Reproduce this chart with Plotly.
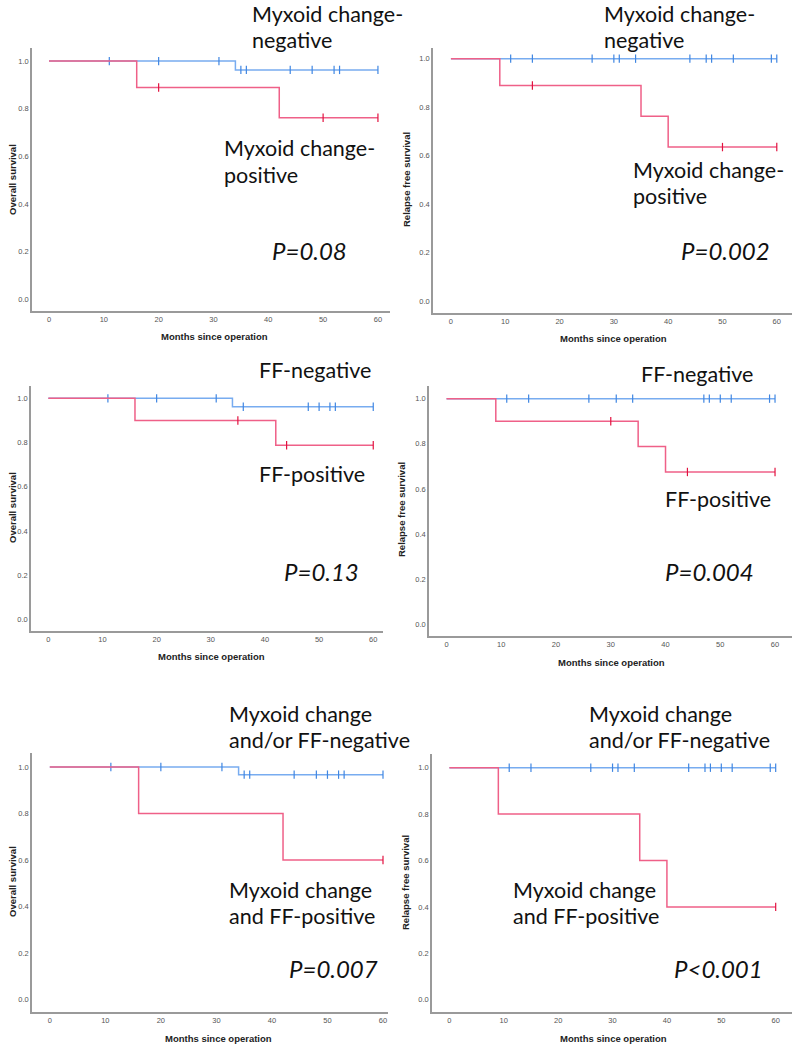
import plotly.graph_objects as go

# ---- data ----
# step curves: time of each step and survival after it; censor times
os_mc_neg_t = [0, 34, 60]
os_mc_neg_s = [1.0, 0.963, 0.963]
os_mc_neg_c = [11, 20, 31, 35, 36, 44, 48, 52, 53, 60]
os_mc_pos_t = [0, 16, 42, 60]
os_mc_pos_s = [1.0, 0.889, 0.762, 0.762]
os_mc_pos_c = [20, 50, 60]

rfs_mc_neg_t = [0, 60]
rfs_mc_neg_s = [1.0, 1.0]
rfs_mc_neg_c = [11, 15, 26, 30, 31, 34, 44, 47, 48, 52, 59, 60]
rfs_mc_pos_t = [0, 9, 35, 40, 60]
rfs_mc_pos_s = [1.0, 0.889, 0.762, 0.635, 0.635]
rfs_mc_pos_c = [15, 50, 60]

os_ff_neg_t = [0, 34, 60]
os_ff_neg_s = [1.0, 0.962, 0.962]
os_ff_neg_c = [11, 20, 31, 36, 48, 50, 52, 53, 60]
os_ff_pos_t = [0, 16, 42, 60]
os_ff_pos_s = [1.0, 0.9, 0.7875, 0.7875]
os_ff_pos_c = [35, 44, 60]

rfs_ff_neg_t = [0, 60]
rfs_ff_neg_s = [1.0, 1.0]
rfs_ff_neg_c = [11, 15, 26, 31, 34, 47, 48, 50, 52, 59, 60]
rfs_ff_pos_t = [0, 9, 35, 40, 60]
rfs_ff_pos_s = [1.0, 0.9, 0.7875, 0.675, 0.675]
rfs_ff_pos_c = [30, 44, 60]

os_both_neg_t = [0, 34, 60]
os_both_neg_s = [1.0, 0.967, 0.967]
os_both_neg_c = [11, 20, 31, 35, 36, 44, 48, 50, 52, 53, 60]
os_both_pos_t = [0, 16, 42, 60]
os_both_pos_s = [1.0, 0.8, 0.6, 0.6]
os_both_pos_c = [60]

rfs_both_neg_t = [0, 60]
rfs_both_neg_s = [1.0, 1.0]
rfs_both_neg_c = [11, 15, 26, 30, 31, 34, 44, 47, 48, 50, 52, 59, 60]
rfs_both_pos_t = [0, 9, 35, 40, 60]
rfs_both_pos_s = [1.0, 0.8, 0.6, 0.4, 0.4]
rfs_both_pos_c = [60]

x_ticks = [0, 10, 20, 30, 40, 50, 60]
y_ticks = [0.0, 0.2, 0.4, 0.6, 0.8, 1.0]
x_title = "Months since operation"

W, H = 794, 1044
BLUE_LINE, BLUE_MARK = "#78acf0", "#3f86e2"
RED_LINE, RED_MARK = "#ef6088", "#e2123f"
TXT_FONT = "Lato"


def px(x):
    return x / W


def py(y):
    return 1 - y / H


def surv_at(t_list, s_list, t):
    val = s_list[0]
    for tt, ss in zip(t_list, s_list):
        if tt <= t:
            val = ss
    return val


# panel layout: (curves, y title, x domain px, y domain px, x range, y range,
#                x-title pos, y-title pos)
panels = [
    ((os_mc_neg_t, os_mc_neg_s, os_mc_neg_c, os_mc_pos_t, os_mc_pos_s, os_mc_pos_c),
     "Overall survival", (32, 390), (48, 311), (-3.1, 62.2), (-0.05, 1.055), (214, 337), (12, 180)),
    ((rfs_mc_neg_t, rfs_mc_neg_s, rfs_mc_neg_c, rfs_mc_pos_t, rfs_mc_pos_s, rfs_mc_pos_c),
     "Relapse free survival", (433, 792), (48, 313), (-3.3, 62.8), (-0.05, 1.044), (613, 339), (406, 180)),
    ((os_ff_neg_t, os_ff_neg_s, os_ff_neg_c, os_ff_pos_t, os_ff_pos_s, os_ff_pos_c),
     "Overall survival", (31, 383), (386, 631), (-3.2, 61.8), (-0.053, 1.056), (211, 656), (12, 508)),
    ((rfs_ff_neg_t, rfs_ff_neg_s, rfs_ff_neg_c, rfs_ff_pos_t, rfs_ff_pos_s, rfs_ff_pos_c),
     "Relapse free survival", (429, 792), (386, 636), (-3.2, 63.1), (-0.052, 1.056), (611, 662), (401, 510)),
    ((os_both_neg_t, os_both_neg_s, os_both_neg_c, os_both_pos_t, os_both_pos_s, os_both_pos_c),
     "Overall survival", (32, 388), (753, 1012), (-3.2, 60.9), (-0.053, 1.06), (218, 1038), (12, 882)),
    ((rfs_both_neg_t, rfs_both_neg_s, rfs_both_neg_c, rfs_both_pos_t, rfs_both_pos_s, rfs_both_pos_c),
     "Relapse free survival", (432, 792), (754, 1012), (-3.2, 63.0), (-0.053, 1.059), (613, 1038), (405, 883)),
]

# overlay labels: (x left px, y cap-centre px, text, italic)
labels = [
    (250, 14, "Myxoid change-", False), (250, 40, "negative", False),
    (222, 148, "Myxoid change-", False), (222, 175, "positive", False),
    (270, 250, "P=0.08", True),
    (602, 14, "Myxoid change-", False), (602, 40, "negative", False),
    (631, 170, "Myxoid change-", False), (631, 196, "positive", False),
    (679, 250, "P=0.002", True),
    (257, 370, "FF-negative", False), (257, 474, "FF-positive", False),
    (282, 571, "P=0.13", True),
    (639, 374, "FF-negative", False), (663, 499, "FF-positive", False),
    (663, 571, "P=0.004", True),
    (227, 714, "Myxoid change", False), (227, 740, "and/or FF-negative", False),
    (227, 890, "Myxoid change", False), (227, 916, "and FF-positive", False),
    (287, 968, "P=0.007", True),
    (587, 714, "Myxoid change", False), (587, 740, "and/or FF-negative", False),
    (511, 890, "Myxoid change", False), (511, 916, "and FF-positive", False),
    (672, 968, "P<0.001", True),
]

fig = go.Figure()
annotations = []
layout_axes = {}

for i, (curves, ytitle, xd, yd, xr, yr, xt_pos, yt_pos) in enumerate(panels):
    n = "" if i == 0 else str(i + 1)
    xa, ya = "x" + n, "y" + n
    nt, ns, nc, pt, ps, pc = curves
    for t, s, c, lc, mc in [(nt, ns, nc, BLUE_LINE, BLUE_MARK), (pt, ps, pc, RED_LINE, RED_MARK)]:
        fig.add_trace(go.Scatter(x=t, y=s, mode="lines", line=dict(color=lc, width=1.5, shape="hv"),
                                 xaxis=xa, yaxis=ya, showlegend=False, hoverinfo="skip"))
        fig.add_trace(go.Scatter(x=c, y=[surv_at(t, s, v) for v in c], mode="markers",
                                 marker=dict(symbol="line-ns", size=6, line=dict(color=mc, width=1.2)),
                                 xaxis=xa, yaxis=ya, showlegend=False, hoverinfo="skip"))
    layout_axes["xaxis" + n] = dict(
        domain=[px(xd[0]), px(xd[1])], range=list(xr), anchor=ya, tickvals=x_ticks,
        showline=True, linecolor="#9a9a9a", linewidth=1.5, showgrid=False, zeroline=False,
        ticks="", tickfont=dict(family="Liberation Sans", size=7.5, color="#555555"))
    layout_axes["yaxis" + n] = dict(
        domain=[py(yd[1]), py(yd[0])], range=list(yr), anchor=xa, tickvals=y_ticks,
        tickformat=".1f", showline=True, linecolor="#9a9a9a", linewidth=1.5, showgrid=False,
        zeroline=False, ticks="", tickfont=dict(family="Liberation Sans", size=7.5, color="#555555"))
    annotations.append(dict(x=px(xt_pos[0]), y=py(xt_pos[1]), xref="paper", yref="paper",
                            text="<b>" + x_title + "</b>", showarrow=False,
                            xanchor="center", yanchor="middle",
                            font=dict(family="Liberation Sans", size=9.5, color="#222222")))
    annotations.append(dict(x=px(yt_pos[0]), y=py(yt_pos[1]), xref="paper", yref="paper",
                            text="<b>" + ytitle + "</b>", showarrow=False, textangle=-90,
                            xanchor="center", yanchor="middle",
                            font=dict(family="Liberation Sans", size=9.5, color="#222222")))

for lx, ly, txt, ital in labels:
    annotations.append(dict(x=px(lx), y=py(ly), xref="paper", yref="paper", text=txt,
                            showarrow=False, xanchor="left", yanchor="middle",
                            font=dict(family=TXT_FONT, size=24 if ital else 21.5, color="#111111",
                                      style="italic" if ital else "normal")))

fig.update_layout(width=W, height=H, margin=dict(l=0, r=0, t=0, b=0),
                  paper_bgcolor="white", plot_bgcolor="white",
                  annotations=annotations, **layout_axes)

# page body has a default 8px margin; drop it so the figure fills the window
fig.write_html("out.html", config={"displayModeBar": False},
               post_script="document.body.style.margin='0';")
